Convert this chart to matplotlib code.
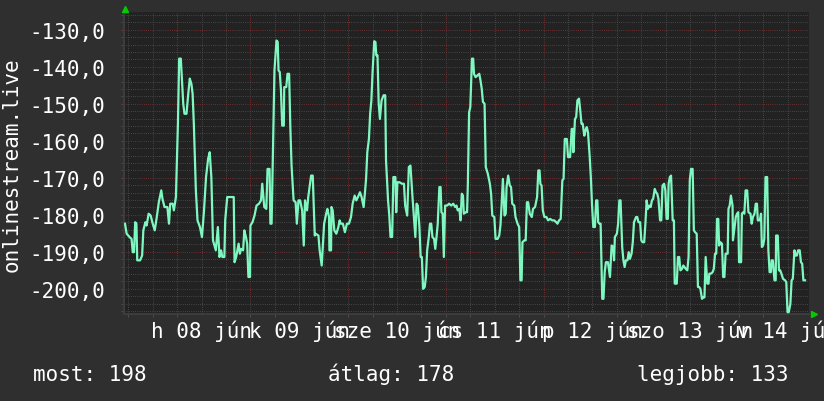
import numpy as np
import matplotlib
matplotlib.use('Agg')
import matplotlib.pyplot as plt
from matplotlib.ticker import MultipleLocator

# hours since jún 08 00:00
hours = [
    -6.8, -6.4, -5.7, -5.2, -4.9, -4.6, -4.3, -4.0, -3.8, -3.1,
    -2.6, -2.3, -1.8, -1.5, -1.0, -0.5, 0.0, 0.5, 1.0, 1.5,
    2.1, 2.4, 2.9, 3.6, 4.0, 4.3, 4.9, 5.2, 5.7, 6.2,
    6.5, 6.9, 7.2, 7.5, 7.8, 8.3, 8.7, 9.1, 9.5, 9.8,
    10.1, 10.6, 11.0, 11.6, 12.1, 12.6, 13.1, 13.6, 14.0, 14.4,
    14.8, 15.5, 16.0,
    16.4, 16.8, 17.1, 17.6, 17.8, 18.3, 19.9, 20.1, 20.5, 21.1,
    21.4, 21.7, 22.2, 22.5, 22.9, 23.2, 23.5, 23.9, 24.0, 24.5,
    25.0, 25.5, 26.1, 26.6, 26.9, 27.4, 27.9, 28.2, 28.7, 28.9,
    29.2, 29.5, 29.9, 30.4, 30.7, 30.9, 31.2, 31.5, 31.8, 32.2,
    32.3, 32.8, 33.1, 33.5, 33.8, 34.1, 34.6, 35.1, 35.4, 35.8,
    36.2, 36.7, 37.1, 37.4, 37.9, 38.2, 38.9, 39.3, 39.8,
    40.0, 40.7, 41.0, 41.5, 41.8, 42.1, 42.6, 42.9, 43.3, 43.4,
    43.8, 43.9, 44.2, 44.6, 45.1, 45.6, 45.9, 46.2, 46.7, 47.2,
    47.7, 48.2, 48.7, 49.1, 49.6, 50.0, 50.4, 50.9, 51.3, 51.8,
    52.1, 52.4, 52.7, 53.1, 53.4, 53.7, 54.0, 54.4, 54.7, 54.9,
    55.2, 55.3, 55.5, 55.8, 56.2, 56.7, 57.1, 57.3, 57.8, 58.1,
    58.4, 58.8, 59.1, 59.6, 59.8, 60.1, 60.6, 61.2, 61.7, 62.0,
    62.5, 62.9, 63.3, 63.8,
    64.5, 64.8, 65.1, 65.5, 65.8, 66.1, 66.4, 66.8, 67.1, 67.4,
    67.8, 68.1, 68.4, 68.7, 69.1, 69.4, 69.7, 70.0, 70.4, 70.7,
    70.9, 71.2, 71.5, 71.8, 72.3, 72.8, 73.3, 73.8, 74.3, 74.6,
    74.9, 75.3, 75.6, 75.9, 76.2, 76.4, 76.9, 77.2, 77.4, 77.7,
    78.0, 78.4, 78.7, 78.9, 79.3, 79.8, 80.2, 80.5, 80.8, 81.1,
    81.5, 81.8, 82.3, 82.8, 83.1, 83.4, 83.9, 84.2, 84.7, 85.1,
    85.4, 85.7, 86.0, 86.4, 86.7, 86.9, 87.3, 87.7, 88.0,
    88.3, 88.8, 89.1, 89.6, 90.0, 90.3, 90.6, 90.8, 91.3, 91.6,
    91.9, 92.2, 92.6, 93.1, 93.4, 93.9, 94.4, 94.7, 95.0, 95.2,
    95.5, 95.8, 96.2, 96.7, 97.1, 97.6, 98.1, 98.6, 99.1, 99.4,
    99.8, 100.2, 100.6, 100.9, 101.2, 101.7, 102.0, 102.5, 102.9, 103.2,
    103.3, 103.7, 104.0, 104.3, 104.7, 105.0, 105.3, 105.6, 106.0, 106.3,
    106.6, 106.9, 107.3, 107.6, 107.9, 108.2, 108.6, 108.9, 109.2, 109.4,
    109.7, 110.0, 110.2, 110.4, 110.7, 111.0, 111.3, 111.8,
    112.3, 112.7, 113.1, 113.3, 113.5, 114.0, 114.3, 114.6, 114.9, 115.3,
    115.6, 115.9, 116.2, 116.6, 116.9, 117.2, 117.6, 117.9, 118.2, 118.7,
    119.0, 119.3, 119.7, 120.0, 120.3, 120.7, 121.0, 121.3, 121.6, 122.0,
    122.3, 122.6, 122.9, 123.3, 123.6, 123.9, 124.2, 124.6, 124.9, 125.2,
    125.6, 125.9, 126.2, 126.5, 126.7, 127.0, 127.3, 127.7, 128.0, 128.2,
    128.7, 129.0, 129.3, 129.6, 130.0, 130.3, 130.6, 130.9, 131.3, 131.6,
    131.9, 132.2, 132.6, 132.9, 133.2, 133.6, 133.9, 134.2, 134.5, 134.9,
    135.2, 135.5, 135.8, 136.2,
    136.5, 136.7, 137.1, 137.5, 137.8, 138.1, 138.4, 138.6, 138.9, 139.1,
    139.4, 139.8, 140.1, 140.4, 140.7, 141.2, 141.4, 141.7, 142.0, 142.4,
    142.5, 142.9, 143.2, 143.5, 143.8, 144.0, 144.5, 144.7, 145.0, 145.3,
    145.6, 146.0, 146.3, 146.8, 147.1, 147.4, 147.8, 148.1, 148.4, 148.6,
    149.1, 149.4, 149.6, 149.9, 150.2, 150.5, 150.9, 151.2, 151.5, 151.8,
    152.0, 152.3, 152.7, 153.0, 153.1, 153.5, 153.8, 154.1, 154.4, 154.8,
    155.3, 155.6, 155.9, 156.2, 156.6, 156.9, 157.2, 157.6, 157.9, 158.2,
    158.5, 158.9, 159.2, 159.5, 159.8, 160.2,
]

values = [
    -182.4, -185.1, -186.0, -186.5, -190.1, -190.1, -182.0, -182.4, -192.3, -192.3,
    -191.0, -184.2, -182.0, -182.9, -179.7, -180.2, -182.4, -184.2, -180.6, -176.6,
    -173.4, -175.7, -177.9, -177.9, -182.4, -177.0, -177.0, -178.8, -175.2, -155.0,
    -137.8, -137.8, -144.1, -150.0, -152.7, -152.7, -147.7, -143.2, -144.6, -147.3,
    -155.4, -173.4, -181.5, -183.3, -186.0, -178.8, -169.8, -164.9, -163.1, -169.8,
    -186.9, -189.6, -183.3,
    -191.4, -189.6, -191.4, -191.4, -181.5, -175.2, -175.2, -192.8, -191.4, -187.8,
    -190.5, -189.2, -189.6, -184.2, -186.0, -187.8, -196.8, -196.8, -182.9, -182.0,
    -180.2, -177.5, -177.0, -176.1, -171.6, -177.9, -178.4, -167.6, -167.6, -182.4,
    -182.4, -164.0, -141.0, -132.9, -133.3, -141.0, -141.4, -146.4, -155.9, -155.9,
    -145.5, -145.5, -141.9, -141.9, -156.3, -166.7, -176.1, -176.6, -182.4, -176.1,
    -176.1, -178.8, -188.3, -176.1, -178.8, -175.2, -169.4, -169.4, -185.6,
    -185.1, -185.6, -189.6, -193.7, -187.8, -182.4, -179.7, -178.4, -180.6, -189.6,
    -189.6, -177.9, -178.8, -184.2, -185.1, -183.3, -181.5, -182.4, -182.4, -184.7,
    -182.4, -182.4, -180.6, -177.0, -174.8, -176.1, -175.2, -173.9, -175.2, -177.9,
    -174.3, -170.3, -163.1, -159.5, -152.7, -149.1, -141.4, -133.1, -133.3, -136.9,
    -136.9, -141.0, -150.0, -154.1, -149.1, -147.7, -147.7, -165.3, -176.1, -180.2,
    -186.0, -186.0, -169.8, -169.8, -179.3, -171.2, -171.2, -171.6, -171.6, -177.5,
    -180.2, -167.1, -166.7, -175.2,
    -186.0, -177.0, -177.5, -183.3, -191.4, -191.4, -200.0, -199.5, -196.8, -189.6,
    -186.0, -182.4, -182.4, -186.0, -186.5, -189.2, -186.0, -182.4, -172.5, -172.5,
    -179.3, -179.7, -191.4, -177.5, -177.5, -177.0, -177.5, -177.0, -177.9, -177.5,
    -178.8, -178.4, -181.5, -174.3, -174.8, -179.7, -179.3, -179.3, -171.6, -152.3,
    -150.9, -137.8, -137.8, -141.9, -142.8, -142.3, -141.9, -143.7, -145.9, -149.5,
    -150.0, -167.1, -168.9, -171.6, -174.3, -180.2, -180.6, -186.5, -186.5, -185.6,
    -182.9, -177.0, -170.3, -180.2, -179.7, -172.5, -169.4, -172.1, -172.5,
    -177.0, -177.5, -180.6, -182.4, -183.3, -197.7, -197.7, -187.4, -186.9, -186.9,
    -176.6, -176.6, -179.7, -180.6, -178.4, -177.9, -175.2, -168.0, -168.0, -171.6,
    -172.1, -178.8, -180.6, -180.6, -181.5, -181.1, -181.5, -181.5, -182.0, -182.4,
    -181.5, -181.1, -170.7, -170.3, -159.5, -159.5, -164.4, -164.4, -156.8, -156.8,
    -163.1, -154.1, -153.6, -149.1, -148.6, -151.8, -155.4, -155.4, -158.6, -157.2,
    -156.3, -157.7, -164.0, -169.8, -177.5, -183.3, -183.3, -176.1, -176.1, -182.0,
    -182.4, -182.4, -192.3, -202.7, -202.7, -195.5, -192.8, -192.8,
    -196.8, -188.3, -188.7, -192.3, -186.0, -185.1, -182.4, -176.1, -176.1, -188.7,
    -192.3, -194.1, -192.3, -192.3, -190.1, -191.9, -190.5, -187.4, -182.0, -180.6,
    -180.6, -182.0, -182.0, -186.9, -187.4, -187.4, -182.4, -176.1, -178.4, -177.5,
    -177.9, -176.1, -175.7, -173.0, -173.9, -174.3, -175.7, -181.5, -181.5, -172.1,
    -171.6, -173.4, -181.1, -181.1, -171.6, -169.8, -169.4, -181.5, -181.5, -198.6,
    -198.6, -191.4, -191.4, -195.0, -194.6, -193.7, -194.1, -194.6, -195.0, -191.4,
    -170.7, -167.6, -167.6, -184.2, -184.7, -185.1, -199.5, -199.5, -200.0, -202.7,
    -202.3, -202.3, -191.4, -198.6,
    -198.6, -195.9, -195.9, -195.5, -194.6, -190.5, -190.5, -181.1, -181.1, -188.3,
    -187.4, -187.8, -196.8, -196.8, -190.5, -190.5, -178.4, -177.5, -174.8, -177.5,
    -186.9, -183.3, -180.6, -179.7, -179.3, -192.8, -192.8, -179.7, -179.3, -179.7,
    -173.4, -173.4, -179.3, -179.7, -182.4, -180.6, -179.7, -177.0, -177.0, -181.5,
    -181.5, -179.7, -188.7, -188.3, -186.5, -169.8, -169.8, -189.6, -195.5, -195.5,
    -192.3, -192.3, -197.7, -197.7, -185.6, -185.6, -195.0, -195.0, -195.9, -197.3,
    -197.7, -198.2, -206.3, -206.3, -204.1, -197.7, -197.3, -189.6, -191.0, -191.0,
    -189.6, -189.6, -192.8, -193.2, -197.7, -197.7,
]
assert len(hours) == len(values)

day_hours = [12, 36, 60, 84, 108, 132, 156]
day_labels = ['h 08 jún', 'k 09 jún', 'sze 10 jún', 'cs 11 jún',
              'p 12 jún', 'szo 13 jún', 'v 14 jún']
y_ticks = [-200, -190, -180, -170, -160, -150, -140, -130]
y_labels = ['%.1f' % v for v in y_ticks]
y_labels = [s.replace('.', ',') for s in y_labels]
summary = ['most: 198', 'átlag: 178', 'legjobb: 133']
summary_x = [33, 328, 637]

bg = '#2f2f2f'
plot_bg = '#222222'
minor_col = '#525252'
major_col = '#803535'
line_col = '#7ff7c0'
arrow_col = '#00cc00'

plt.rcParams['font.family'] = 'DejaVu Sans Mono'
plt.rcParams['font.size'] = 15

W, H = 824, 402
fig = plt.figure(figsize=(W / 100, H / 100), dpi=100, facecolor=bg)
ax = fig.add_axes([124 / W, 1 - 315 / H, 685.5 / W, 302 / H])
ax.set_facecolor(plot_bg)
ax.set_xlim(-7.05, 161.3)
ax.set_ylim(-206.8, -125.2)

dots = (0, (0.72, 1.44))
for h in np.arange(-6, 162, 6):
    c = major_col if h % 24 == 0 else minor_col
    ax.axvline(h, color=c, lw=0.72, ls=dots, zorder=1)
for v in np.arange(-206, -125, 2):
    c = major_col if v % 10 == 0 else minor_col
    ax.axhline(v, color=c, lw=0.72, ls=dots, zorder=1)

ax.plot(hours, values, color=line_col, lw=1.6, zorder=3)

ax.set_xticks(day_hours, day_labels)
ax.xaxis.set_minor_locator(MultipleLocator(6))
ax.set_yticks(y_ticks, y_labels)
ax.yaxis.set_minor_locator(MultipleLocator(2))
ax.tick_params(axis='x', which='major', length=0, pad=4, colors='white')
ax.tick_params(axis='y', which='major', length=2, pad=11.5, colors='white')
ax.tick_params(which='minor', length=2, color=minor_col)
ax.tick_params(axis='y', which='major', color=major_col)
for t in ax.xaxis.get_minor_ticks():
    if abs(t.get_loc() % 24) < 1e-6:
        t.tick1line.set_color(major_col)

for s in ['top', 'right']:
    ax.spines[s].set_visible(False)
for s in ['left', 'bottom']:
    ax.spines[s].set_color('#3c3c3c')
    ax.spines[s].set_linewidth(1.5)

ax.plot([0.0015], [1.009], marker='^', ms=5, color=arrow_col,
        transform=ax.transAxes, clip_on=False, zorder=5)
ax.plot([1.0066], [0.0], marker='>', ms=5, color=arrow_col,
        transform=ax.transAxes, clip_on=False, zorder=5)

fig.text(12 / W, 1 - 165 / H, 'onlinestream.live', rotation=90,
         ha='center', va='center', color='white')
for txt, x in zip(summary, summary_x):
    fig.text(x / W, 1 - 381 / H, txt, ha='left', va='baseline', color='white')

fig.savefig('out.png', dpi=100, facecolor=bg)
